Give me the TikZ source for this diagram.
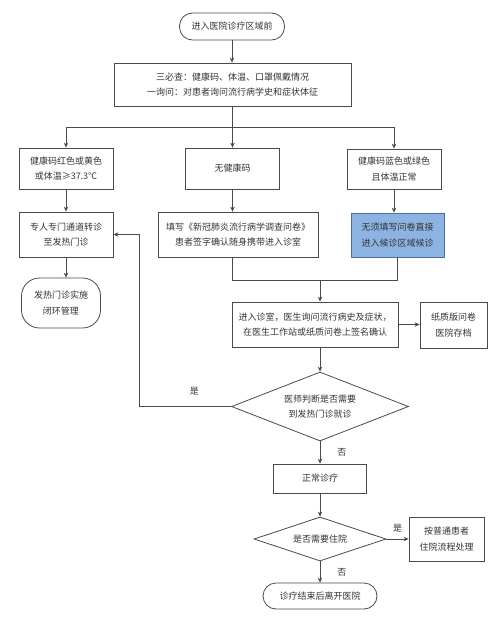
\documentclass[tikz,border=0pt]{standalone}
\usepackage{fontspec}
\newfontfamily\cjk{Noto Sans CJK SC}
\usetikzlibrary{shapes.geometric,arrows.meta}
\definecolor{linegray}{HTML}{4A4A4A}
\definecolor{waitblue}{HTML}{8DB3E2}
\definecolor{waitedge}{HTML}{4E6E9E}

\begin{document}
\begin{tikzpicture}[x=1pt,y=-1pt,
  every node/.style={font=\cjk\fontsize{9}{15.5}\selectfont, text=black!80},
  box/.style={draw=linegray, thick, rectangle, align=center, inner sep=0pt},
  term/.style={box, rounded corners=13pt},
  choice/.style={draw=linegray, thick, diamond, aspect=2.5, inner sep=0pt, align=center},
  lbl/.style={inner sep=0pt},
  arr/.style={draw=linegray, thick, -{Stealth[length=5pt,width=4.5pt]}},
  ln/.style={draw=linegray, thick}]
\useasboundingbox (0,0) rectangle (500,618);

\node[term, minimum width=105pt, minimum height=27pt] (start) at (232,26.5) {进入医院诊疗区域前};
\node[box, minimum width=237pt, minimum height=43pt] (check) at (232.5,84.5) {三必查：健康码、体温、口罩佩戴情况\\一询问：对患者询问流行病学史和症状体征};

\node[box, minimum width=94pt, minimum height=41pt] (red) at (66,168.5) {健康码红色或黄色\\或体温≥37.3℃};
\node[box, minimum width=94pt, minimum height=41pt] (nocode) at (232.5,168.5) {无健康码};
\node[box, minimum width=94pt, minimum height=40pt] (green) at (394,169) {健康码蓝色或绿色\\且体温正常};

\node[box, minimum width=94pt, minimum height=45pt] (fever) at (66,234.5) {专人专门通道转诊\\至发热门诊};
\node[box, minimum width=160pt, minimum height=45pt] (survey) at (238,234.5) {填写《新冠肺炎流行病学调查问卷》\\患者签字确认随身携带进入诊室};
\node[box, fill=waitblue, draw=waitedge, minimum width=93pt, minimum height=44pt] (direct) at (397.5,235) {无须填写问卷直接\\进入候诊区域候诊};
\node[term, rounded corners=18pt, minimum width=79pt, minimum height=50pt] (closed) at (61,303) {发热门诊实施\\闭环管理};

\node[box, minimum width=166pt, minimum height=45pt] (room) at (315,324.5) {进入诊室，医生询问流行病史及症状，\\在医生工作站或纸质问卷上签名确认};
\node[box, minimum width=67pt, minimum height=46pt] (paper) at (453.5,325) {纸质版问卷\\医院存档};
\node[choice, minimum width=177pt, minimum height=69pt] (judge) at (320,406.5) {医师判断是否需要\\到发热门诊就诊};
\node[box, minimum width=93pt, minimum height=29pt] (normal) at (320,478.5) {正常诊疗};
\node[choice, minimum width=132pt, minimum height=44pt] (admit) at (320,539) {是否需要住院};
\node[box, minimum width=75pt, minimum height=44pt] (inpatient) at (446.5,539) {按普通患者\\住院流程处理};
\node[term, minimum width=114pt, minimum height=26pt] (end) at (320,596) {诊疗结束后离开医院};

\coordinate (split) at (232.5,127);
\coordinate (merge) at (320,280);
\coordinate (back) at (139,406.5);

\draw[arr] (start.south) -- (start.south |- check.north);
\draw[ln] (check.south) -- (split);
\draw[ln] (red.north |- split) -- (green.north |- split);
\draw[arr] (red.north |- split) -- (red.north);
\draw[arr] (split) -- (nocode.north);
\draw[arr] (green.north |- split) -- (green.north);

\draw[arr] (red) -- (fever);
\draw[arr] (nocode.south) -- (nocode.south |- survey.north);
\draw[arr] (green.south) -- (green.south |- direct.north);
\draw[arr] (fever.south) -- (fever.south |- closed.north);

\draw[ln] (nocode |- survey.south) -- (nocode |- merge) -- (direct.south |- merge) -- (direct.south);
\draw[arr] (merge) -- (merge |- room.north);
\draw[arr] (room.east) -- (room.east -| paper.west);
\draw[arr] (merge |- room.south) -- (judge.north);

\draw[arr] (judge.west) -- node[lbl, pos=0.4, above=11pt] {是} (back) -- (back |- fever.east) -- (fever.east);
\draw[arr] (judge) -- node[lbl, right=17pt] {否} (normal);
\draw[arr] (normal) -- (admit);
\draw[arr] (admit) -- node[lbl, above=6pt] {是} (inpatient);
\draw[arr] (admit) -- node[lbl, right=17pt] {否} (end);
\end{tikzpicture}
\end{document}
